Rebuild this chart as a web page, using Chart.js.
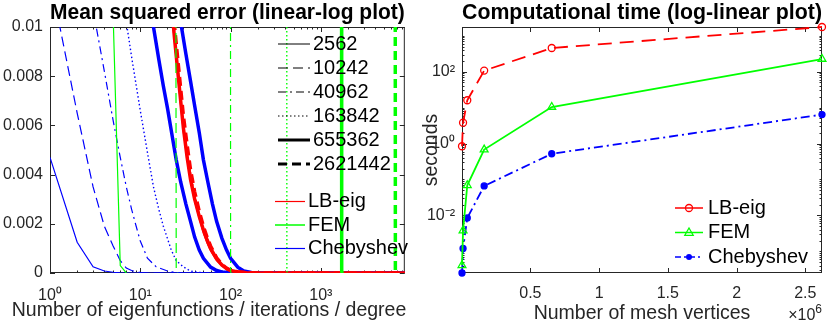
<!DOCTYPE html>
<html>
<head>
<meta charset="utf-8">
<script src="https://cdn.jsdelivr.net/npm/chart.js@4.4.1/dist/chart.umd.min.js"></script>
<style>
  html, body { margin: 0; padding: 0; background: #fff; }
  #wrap { position: relative; width: 830px; height: 330px; }
  canvas { position: absolute; top: 0; }
  #mse { left: 0; }
  #time { left: 415px; }
</style>
</head>
<body>
<div id="wrap">
  <canvas id="mse" width="415" height="330"></canvas>
  <canvas id="time" width="415" height="330"></canvas>
</div>
<script>
// mesh sizes (vertices) and methods
const meshSizes = [2562, 10242, 40962, 163842, 655362, 2621442];
const methods = ['LB-eig', 'FEM', 'Chebyshev'];

// computational time in seconds, one value per mesh size
const timeLB = [0.84, 3.8, 16, 107, 456, 1750];
const timeFEM = [0.00041, 0.0038, 0.069, 0.68, 10.4, 225];
const timeCheb = [0.00025, 0.0012, 0.0085, 0.066, 0.52, 6.4];

// mean squared error, [n, error] pairs (n = eigenfunctions / iterations / degree)
const fem2562 = [[5, 0.0105], [6, 0.0003], [7, 0]];
const fem10242 = [[24, 0.05], [25, 0.0001], [26, 0]];
const fem40962 = [[99, 0.05], [100, 0.0001], [101, 0]];
const fem163842 = [[415, 0.05], [420, 0.0001], [425, 0]];
const fem655362 = [[1680, 0.05], [1700, 0.0001], [1720, 0]];
const fem2621442 = [[6600, 0.05], [6680, 0.0001], [6760, 0]];

const lb2562 = [[1, 0.1], [20, 0.02], [22, 0.0107], [24, 0.0093], [26, 0.008], [28, 0.0068], [30, 0.0057], [33, 0.0046], [36, 0.0037], [40, 0.0029], [45, 0.0022], [50, 0.0016], [55, 0.0012], [60, 0.0009], [70, 0.0005], [80, 0.00028], [90, 0.00015], [100, 0.00008], [120, 0.00003], [150, 0.00001], [200, 0], [8500, 0]];
const lb10242 = [[1, 0.1], [20, 0.02], [22, 0.0109], [24, 0.0095], [26, 0.0082], [28, 0.007], [30, 0.0059], [33, 0.0048], [36, 0.0039], [40, 0.0031], [45, 0.0023], [50, 0.0017], [55, 0.0013], [60, 0.00098], [70, 0.00056], [80, 0.00032], [90, 0.00018], [100, 0.0001], [120, 0.00004], [150, 0.00001], [200, 0], [8500, 0]];
const lb40962 = [[1, 0.1], [20, 0.02], [22, 0.0111], [24, 0.0096], [26, 0.0083], [28, 0.0071], [30, 0.006], [33, 0.0049], [36, 0.004], [40, 0.0031], [45, 0.0024], [50, 0.0018], [55, 0.00135], [60, 0.001], [70, 0.00058], [80, 0.00033], [90, 0.00018], [100, 0.0001], [120, 0.00004], [150, 0.00001], [200, 0], [8500, 0]];
const lb163842 = [[1, 0.1], [20, 0.02], [22, 0.0112], [24, 0.0097], [26, 0.0084], [28, 0.0072], [30, 0.0061], [33, 0.005], [36, 0.0041], [40, 0.0032], [45, 0.0024], [50, 0.0018], [55, 0.0014], [60, 0.00104], [70, 0.0006], [80, 0.00034], [90, 0.00019], [100, 0.0001], [120, 0.00004], [150, 0.00001], [200, 0], [8500, 0]];
const lb655362 = [[1, 0.1], [20, 0.02], [22, 0.011], [24, 0.0095], [26, 0.0082], [28, 0.007], [30, 0.0059], [33, 0.0047], [36, 0.0038], [40, 0.003], [45, 0.0023], [50, 0.00175], [55, 0.00134], [60, 0.001], [70, 0.00057], [80, 0.00033], [90, 0.00018], [100, 0.0001], [120, 0.00004], [150, 0.00001], [200, 0], [8500, 0]];
const lb2621442 = [[1, 0.1], [20, 0.022], [22, 0.0115], [24, 0.01], [26, 0.0087], [28, 0.0075], [30, 0.0064], [33, 0.0052], [36, 0.0042], [40, 0.0033], [45, 0.0025], [50, 0.0019], [55, 0.00145], [60, 0.0011], [70, 0.00062], [80, 0.00036], [90, 0.0002], [100, 0.00011], [120, 0.00005], [150, 0.00001], [200, 0], [8500, 0]];

const cheb2562 = [[1, 0.0047], [2, 0.00125], [3, 0.00025], [4, 0.00008], [5, 0.00003], [6, 0.00001], [8, 0], [8500, 0]];
const cheb10242 = [[1, 0.012], [2, 0.0065], [3, 0.0035], [4, 0.0019], [5, 0.0011], [6, 0.0005], [7, 0.0002], [8, 0.0001], [10, 0.00002], [12, 0], [8500, 0]];
const cheb40962 = [[1, 0.02], [2, 0.014], [3, 0.0107], [4, 0.0082], [5, 0.0062], [6, 0.0047], [7, 0.0035], [8, 0.0026], [9, 0.0019], [10, 0.0013], [12, 0.0006], [15, 0.00025], [20, 0.00008], [25, 0.00002], [30, 0], [8500, 0]];
const cheb163842 = [[1, 0.03], [4, 0.015], [7, 0.0102], [8, 0.0088], [10, 0.0066], [12, 0.0049], [14, 0.0035], [16, 0.0026], [18, 0.0019], [20, 0.0014], [22, 0.00094], [25, 0.0005], [30, 0.00025], [35, 0.0001], [40, 0.00004], [50, 0.00001], [60, 0], [8500, 0]];
const cheb655362 = [[1, 0.05], [10, 0.02], [14, 0.01], [16, 0.0087], [18, 0.0076], [20, 0.0067], [22, 0.0058], [25, 0.0046], [28, 0.0037], [32, 0.0028], [36, 0.0021], [40, 0.00146], [45, 0.00093], [50, 0.0006], [60, 0.00024], [70, 0.0001], [80, 0.00004], [100, 0.00001], [120, 0], [8500, 0]];
const cheb2621442 = [[1, 0.1], [20, 0.02], [28, 0.0102], [32, 0.0089], [36, 0.0078], [40, 0.0068], [45, 0.0057], [50, 0.0046], [56, 0.0037], [63, 0.0028], [70, 0.0021], [80, 0.00142], [90, 0.00094], [100, 0.0006], [120, 0.00024], [140, 0.00008], [170, 0.00002], [200, 0], [8500, 0]];

// axis ticks
const errTicks = [0, 0.002, 0.004, 0.006, 0.008, 0.01];
const mseDecades = [1, 10, 100, 1000];
const timeDecades = [1e-2, 1e0, 1e2];
const vertexTicks = [0.5e6, 1e6, 1.5e6, 2e6, 2.5e6];

const RED = '#ff0000', GREEN = '#00ff00', BLUE = '#0000ff';
const AXIS = '#262626';
const FONT = "'Liberation Sans', Arial, Helvetica, sans-serif";

Chart.defaults.font.family = FONT;
Chart.defaults.font.size = 16;
Chart.defaults.color = AXIS;

// line style per mesh size
const meshStyle = [
  { w: 1.2, dash: [] },
  { w: 1.2, dash: [10, 5] },
  { w: 1.2, dash: [8, 4, 2, 4] },
  { w: 1.4, dash: [1.5, 2.5] },
  { w: 3.5, dash: [] },
  { w: 3.5, dash: [9, 5] }
];

const SUP = { '-': '\u207b', '0': '\u2070', '1': '\u00b9', '2': '\u00b2', '3': '\u00b3', '4': '\u2074',
  '5': '\u2075', '6': '\u2076', '7': '\u2077', '8': '\u2078', '9': '\u2079' };
function pow10Label(v) {
  const e = Math.round(Math.log10(v));
  return '10' + String(e).split('').map(c => SUP[c]).join('');
}
function isIn(list, v) {
  return list.some(d => Math.abs(d - v) / d < 1e-9);
}
function logTicks(lo, hi) {
  const out = [];
  for (let e = Math.floor(Math.log10(lo)); e <= Math.ceil(Math.log10(hi)); e++) {
    for (let k = 1; k <= 9; k++) {
      const v = k * Math.pow(10, e);
      if (v >= lo * 0.999999 && v <= hi * 1.000001) out.push({ value: v });
    }
  }
  return out;
}

// matlab-like box with inward ticks
const axesBox = {
  id: 'axesBox',
  beforeDatasetsDraw(chart) {
    const { ctx, chartArea: a, scales } = chart;
    ctx.save();
    ctx.strokeStyle = AXIS;
    ctx.lineWidth = 1;
    ctx.strokeRect(a.left + 0.5, a.top + 0.5, a.right - a.left - 1, a.bottom - a.top - 1);
    ctx.beginPath();
    scales.x.ticks.forEach(t => {
      const px = Math.round(scales.x.getPixelForValue(t.value)) + 0.5;
      const len = t.label ? 5 : 2.5;
      ctx.moveTo(px, a.bottom); ctx.lineTo(px, a.bottom - len);
      ctx.moveTo(px, a.top); ctx.lineTo(px, a.top + len);
    });
    scales.y.ticks.forEach(t => {
      const py = Math.round(scales.y.getPixelForValue(t.value)) + 0.5;
      const len = t.label ? 5 : 2.5;
      ctx.moveTo(a.left, py); ctx.lineTo(a.left + len, py);
      ctx.moveTo(a.right, py); ctx.lineTo(a.right - len, py);
    });
    ctx.stroke();
    ctx.restore();
  }
};

function drawMarker(ctx, m, x, y, color) {
  ctx.save();
  ctx.setLineDash([]);
  ctx.strokeStyle = color;
  ctx.fillStyle = color;
  ctx.lineWidth = 1.3;
  ctx.beginPath();
  if (m === 'triangle') {
    ctx.moveTo(x, y - 4.5);
    ctx.lineTo(x + 4.2, y + 2.8);
    ctx.lineTo(x - 4.2, y + 2.8);
    ctx.closePath();
    ctx.stroke();
  } else if (m === 'dot') {
    ctx.arc(x, y, 3, 0, Math.PI * 2);
    ctx.fill();
  } else {
    ctx.arc(x, y, 3.5, 0, Math.PI * 2);
    ctx.stroke();
  }
  ctx.restore();
}

// legend drawn inside the plot area
function makeLegend(groups) {
  return {
    id: 'lineLegend',
    afterDatasetsDraw(chart) {
      const ctx = chart.ctx;
      groups.forEach(g => {
        g.items.forEach((it, i) => {
          const y = g.top + i * g.row;
          ctx.save();
          ctx.strokeStyle = it.color;
          ctx.lineWidth = it.width;
          ctx.setLineDash(it.dash || []);
          ctx.beginPath();
          ctx.moveTo(g.x0, y);
          ctx.lineTo(g.x1, y);
          ctx.stroke();
          ctx.restore();
          if (it.marker) drawMarker(ctx, it.marker, (g.x0 + g.x1) / 2, y, it.color);
          ctx.save();
          ctx.font = '20px ' + FONT;
          ctx.textBaseline = 'middle';
          ctx.textAlign = 'left';
          ctx.fillStyle = '#000';
          ctx.fillText(it.text, g.x1 + g.gap, y);
          ctx.restore();
        });
      });
    }
  };
}

// free text (axis label that is wider than the axis, exponent note)
function makeTexts(items) {
  return {
    id: 'freeText',
    afterDraw(chart) {
      const ctx = chart.ctx;
      ctx.save();
      ctx.textBaseline = 'middle';
      items.forEach(t => {
        ctx.fillStyle = t.color || AXIS;
        if (t.sup) {
          ctx.font = '12px ' + FONT;
          const w = ctx.measureText(t.sup).width;
          ctx.textAlign = 'right';
          ctx.fillText(t.sup, t.x, t.y - 6);
          ctx.font = t.font;
          ctx.fillText(t.text, t.x - w, t.y);
        } else {
          ctx.font = t.font;
          ctx.textAlign = t.align || 'center';
          ctx.fillText(t.text, t.x, t.y);
        }
      });
      ctx.restore();
    }
  };
}

function curve(label, pts, color, style, dash) {
  return {
    label: label,
    data: pts.map(([x, y]) => ({ x: x, y: y })),
    borderColor: color,
    borderWidth: style.w,
    borderDash: dash || style.dash,
    pointRadius: 0,
    fill: false,
    tension: 0
  };
}

const femCurves = [fem2562, fem10242, fem40962, fem163842, fem655362, fem2621442];
const lbCurves = [lb2562, lb10242, lb40962, lb163842, lb655362, lb2621442];
const chebCurves = [cheb2562, cheb10242, cheb40962, cheb163842, cheb655362, cheb2621442];

// first dataset is drawn on top
const mseSets = [];
femCurves.forEach((c, i) => mseSets.push(curve('FEM ' + meshSizes[i], c, GREEN, meshStyle[i])));
[5, 0, 1, 2, 3, 4].forEach(i => mseSets.push(curve('LB-eig ' + meshSizes[i], lbCurves[i], RED, meshStyle[i])));
chebCurves.forEach((c, i) => mseSets.push(curve('Chebyshev ' + meshSizes[i], c, BLUE, meshStyle[i], i === 5 ? [] : null)));

new Chart(document.getElementById('mse'), {
  type: 'line',
  data: { datasets: mseSets },
  options: {
    responsive: false,
    animation: false,
    devicePixelRatio: 1,
    layout: { padding: { left: 0, right: 5, top: 0, bottom: 0 } },
    plugins: {
      legend: { display: false },
      tooltip: { enabled: false },
      title: {
        display: true,
        fullSize: false,
        text: 'Mean squared error (linear-log plot)',
        color: '#000',
        font: { size: 21.5, weight: 'bold' },
        padding: { top: 0.5, bottom: 0.7 }
      }
    },
    scales: {
      x: {
        type: 'logarithmic',
        min: 1,
        max: 8500,
        grid: { display: false, drawTicks: false },
        border: { display: false },
        ticks: {
          padding: 12.5,
          autoSkip: false,
          maxRotation: 0,
          callback: v => (isIn(mseDecades, v) ? pow10Label(v) : '')
        },
        afterBuildTicks: s => { s.ticks = logTicks(1, 8500); },
        afterFit: s => { s.height = 57; }
      },
      y: {
        type: 'linear',
        min: 0,
        max: 0.01,
        grid: { display: false, drawTicks: false },
        border: { display: false },
        ticks: {
          padding: 7,
          callback: v => (v === 0 ? '0' : String(+v.toFixed(4)))
        },
        afterBuildTicks: s => { s.ticks = errTicks.map(v => ({ value: v })); },
        afterFit: s => { s.width = 50; }
      }
    }
  },
  plugins: [
    axesBox,
    makeLegend([
      {
        x0: 278, x1: 310, gap: 3, top: 44, row: 24,
        items: meshSizes.map((n, i) => ({ text: String(n), color: '#000', width: meshStyle[i].w === 3.5 ? 3 : 1, dash: meshStyle[i].dash }))
      },
      {
        x0: 275, x1: 305, gap: 3, top: 201.5, row: 23.5,
        items: [
          { text: methods[0], color: RED, width: 1.2 },
          { text: methods[1], color: GREEN, width: 1.5 },
          { text: methods[2], color: BLUE, width: 1.2 }
        ]
      }
    ]),
    makeTexts([
      { text: 'Number of eigenfunctions / iterations / degree', x: 209, y: 311, font: '19.5px ' + FONT }
    ])
  ]
});

function timeSet(label, values, color, dash, marker, radius, fillColor) {
  return {
    label: label,
    data: meshSizes.map((n, i) => ({ x: n, y: values[i] })),
    borderColor: color,
    borderWidth: 1.8,
    borderDash: dash,
    pointStyle: marker,
    pointRadius: radius,
    pointBorderColor: color,
    pointBackgroundColor: fillColor,
    pointBorderWidth: 1.3,
    fill: false,
    tension: 0,
    clip: false
  };
}

new Chart(document.getElementById('time'), {
  type: 'line',
  data: {
    datasets: [
      timeSet(methods[0], timeLB, RED, [14, 8], 'circle', 3.5, 'rgba(0,0,0,0)'),
      timeSet(methods[1], timeFEM, GREEN, [], 'triangle', 4.5, 'rgba(0,0,0,0)'),
      timeSet(methods[2], timeCheb, BLUE, [9, 4, 2, 4], 'circle', 3, BLUE)
    ]
  },
  options: {
    responsive: false,
    animation: false,
    devicePixelRatio: 1,
    layout: { padding: { left: 0, right: 8, top: 0, bottom: 0 } },
    plugins: {
      legend: { display: false },
      tooltip: { enabled: false },
      title: {
        display: true,
        fullSize: false,
        text: 'Computational time (log-linear plot)',
        color: '#000',
        font: { size: 21.5, weight: 'bold' },
        padding: { top: 0.5, bottom: 0.7 }
      }
    },
    scales: {
      x: {
        type: 'linear',
        min: 2562,
        max: 2621442,
        grid: { display: false, drawTicks: false },
        border: { display: false },
        ticks: {
          padding: 10.5,
          autoSkip: false,
          maxRotation: 0,
          callback: v => String(v / 1e6)
        },
        title: {
          display: true,
          text: 'Number of mesh vertices',
          font: { size: 19.5 },
          padding: { top: 0, bottom: 4.5 }
        },
        afterBuildTicks: s => { s.ticks = vertexTicks.map(v => ({ value: v })); },
        afterFit: s => { s.height = 57; }
      },
      y: {
        type: 'logarithmic',
        min: 0.00025,
        max: 1750,
        grid: { display: false, drawTicks: false },
        border: { display: false },
        ticks: {
          padding: 7,
          autoSkip: false,
          callback: v => (isIn(timeDecades, v) ? pow10Label(v) : '')
        },
        title: {
          display: true,
          text: 'seconds',
          font: { size: 19.5 },
          padding: { top: 5.3, bottom: 0 }
        },
        afterBuildTicks: s => { s.ticks = logTicks(0.00025, 1750); },
        afterFit: s => { s.width = 47; }
      }
    }
  },
  plugins: [
    axesBox,
    makeLegend([
      {
        x0: 260, x1: 288, gap: 5, top: 208, row: 24.5,
        items: [
          { text: methods[0], color: RED, width: 1.5, dash: [], marker: 'circle' },
          { text: methods[1], color: GREEN, width: 1.5, dash: [], marker: 'triangle' },
          { text: methods[2], color: BLUE, width: 1.5, dash: [6, 3, 2, 3], marker: 'dot' }
        ]
      }
    ]),
    makeTexts([
      { text: '\u00d710', sup: '6', x: 407, y: 316, font: '16px ' + FONT }
    ])
  ]
});
</script>
</body>
</html>
